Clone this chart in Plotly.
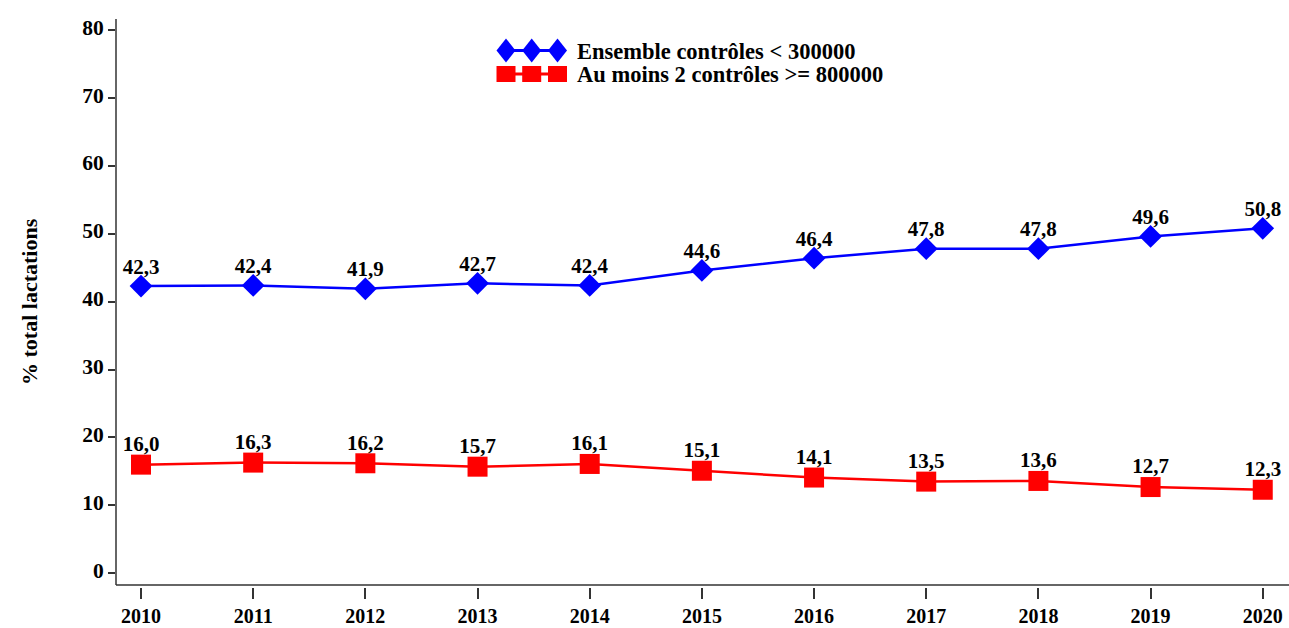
import plotly.graph_objects as go

years = [2010, 2011, 2012, 2013, 2014, 2015, 2016, 2017, 2018, 2019, 2020]
ensemble = [42.3, 42.4, 41.9, 42.7, 42.4, 44.6, 46.4, 47.8, 47.8, 49.6, 50.8]
au_moins = [16.0, 16.3, 16.2, 15.7, 16.1, 15.1, 14.1, 13.5, 13.6, 12.7, 12.3]
name_ens = "Ensemble contrôles < 300000"
name_am = "Au moins 2 contrôles >= 800000"
y_ticks = [0, 10, 20, 30, 40, 50, 60, 70, 80]
y_title = "% total lactations"

FONT = "Liberation Serif"
BLUE = "#0000FF"
RED = "#FF0000"
AX = "#333333"

W, H = 1289, 628
L, T = 116, 19
R = 0
PLOT_BOTTOM = 587
B = H - PLOT_BOTTOM
PW, PH = W - L - R, H - T - B


def px_x(px):
    return (px - L) / PW


def px_y(py):
    return (PLOT_BOTTOM - py) / PH


YMIN, YMAX = -2.02, 81.63
LABEL_FONT = dict(family=FONT, size=21, color="black", weight="bold")

fig = go.Figure()
fig.add_trace(go.Scatter(
    x=years, y=ensemble, mode="lines+markers", name=name_ens,
    line=dict(color=BLUE, width=2.5),
    marker=dict(symbol="diamond", size=17.5, color=BLUE),
    showlegend=False, cliponaxis=False,
))
fig.add_trace(go.Scatter(
    x=years, y=au_moins, mode="lines+markers", name=name_am,
    line=dict(color=RED, width=2.5),
    marker=dict(symbol="square", size=20, color=RED),
    showlegend=False, cliponaxis=False,
))
# value labels (invisible smaller markers control the label offset)
fig.add_trace(go.Scatter(
    x=years, y=ensemble, mode="markers+text", name=name_ens,
    marker=dict(size=10, opacity=0),
    texttemplate="%{y:.1f}", textposition="top center", textfont=LABEL_FONT,
    showlegend=False, cliponaxis=False, hoverinfo="skip",
))
fig.add_trace(go.Scatter(
    x=years, y=au_moins, mode="markers+text", name=name_am,
    marker=dict(size=12, opacity=0),
    texttemplate="%{y:.1f}", textposition="top center", textfont=LABEL_FONT,
    showlegend=False, cliponaxis=False, hoverinfo="skip",
))

shapes = []
# axis lines
y_axis_line = (573.3 - 585) / 6.79
shapes.append(dict(type="line", xref="paper", yref="y", x0=0, x1=1,
                   y0=y_axis_line, y1=y_axis_line, line=dict(color=AX, width=1.5)))
shapes.append(dict(type="line", xref="paper", yref="y", x0=0, x1=0,
                   y0=y_axis_line, y1=YMAX, line=dict(color=AX, width=1.5)))

# custom legend glyphs
leg_x = [506, 531.7, 557.5]
leg_y1, leg_y2 = 50.5, 74
shapes.append(dict(type="line", xref="paper", yref="paper", x0=px_x(leg_x[0]), x1=px_x(leg_x[-1]),
                   y0=px_y(leg_y1), y1=px_y(leg_y1), line=dict(color=BLUE, width=3)))
shapes.append(dict(type="line", xref="paper", yref="paper", x0=px_x(leg_x[0]), x1=px_x(leg_x[-1]),
                   y0=px_y(leg_y2), y1=px_y(leg_y2), line=dict(color=RED, width=3)))
for cx in leg_x:
    hw, hh = 9.5, 12
    path = "M {} {} L {} {} L {} {} L {} {} Z".format(
        px_x(cx - hw), px_y(leg_y1), px_x(cx), px_y(leg_y1 - hh),
        px_x(cx + hw), px_y(leg_y1), px_x(cx), px_y(leg_y1 + hh))
    shapes.append(dict(type="path", xref="paper", yref="paper", path=path,
                       fillcolor=BLUE, line=dict(width=0)))
    shapes.append(dict(type="rect", xref="paper", yref="paper",
                       x0=px_x(cx - 9.5), x1=px_x(cx + 9.5), y0=px_y(leg_y2 + 8), y1=px_y(leg_y2 - 8),
                       fillcolor=RED, line=dict(width=0)))

annotations = [
    dict(text=name_ens, xref="paper", yref="paper", x=px_x(575), y=px_y(leg_y1 + 1),
         xanchor="left", yanchor="middle", showarrow=False,
         font=dict(family=FONT, size=22.5, color="black", weight="bold")),
    dict(text=name_am, xref="paper", yref="paper", x=px_x(575), y=px_y(leg_y2 + 1),
         xanchor="left", yanchor="middle", showarrow=False,
         font=dict(family=FONT, size=22.5, color="black", weight="bold")),
    dict(text=y_title, xref="paper", yref="paper", x=px_x(30), y=px_y(302),
         xanchor="center", yanchor="middle", textangle=-90, showarrow=False,
         font=dict(family=FONT, size=22, color="black", weight="bold")),
]

fig.update_layout(
    width=W, height=H,
    margin=dict(l=L, r=R, t=T, b=B, pad=0, autoexpand=False),
    paper_bgcolor="white", plot_bgcolor="white",
    separators=", ",
    showlegend=False,
    shapes=shapes,
    annotations=annotations,
    xaxis=dict(
        range=[2009.777, 2020.234], tickvals=years, ticktext=[str(y) for y in years],
        showgrid=False, zeroline=False, showline=False, automargin=False,
        ticks="outside", ticklen=11, tickwidth=1.5, tickcolor=AX,
        ticklabelstandoff=0,
        tickfont=dict(family=FONT, size=20, color="black", weight="bold"),
    ),
    yaxis=dict(
        range=[YMIN, YMAX], tickvals=y_ticks,
        showgrid=False, zeroline=False, showline=False, automargin=False,
        ticks="outside", ticklen=7, tickwidth=1.5, tickcolor=AX,
        ticklabelshift=-3,
        tickfont=dict(family=FONT, size=21.5, color="black", weight="bold"),
    ),
)

fig.write_html(
    "out.html",
    config={"displayModeBar": False},
    post_script="document.body.style.margin='0';document.body.style.overflow='hidden';",
)
